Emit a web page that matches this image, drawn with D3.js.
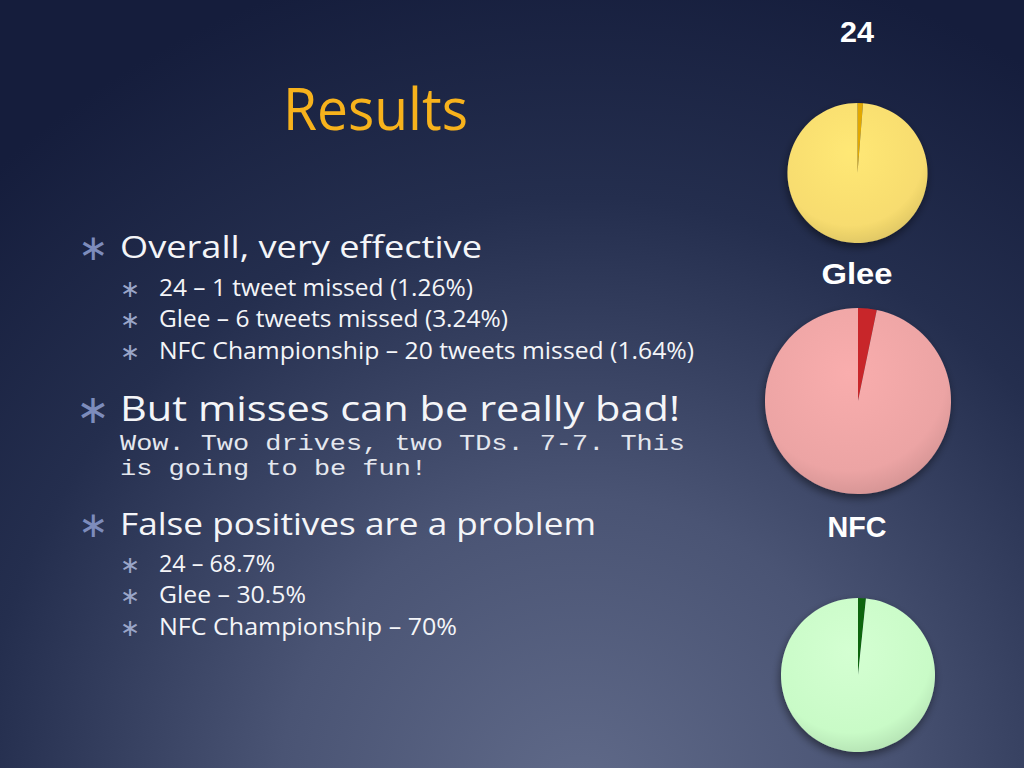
<!DOCTYPE html>
<html><head><meta charset="utf-8">
<script src="https://cdn.jsdelivr.net/npm/d3@7/dist/d3.min.js"></script>
<style>html,body{margin:0;padding:0;background:#172040;overflow:hidden}</style>
</head><body>
<script>
// ---- data ----
const pieTitles = ["24", "Glee", "NFC"];
const missedPct = [1.26, 3.24, 1.64];
const mainColors = ["#f7dc6f", "#eca4a4", "#c9fbc7"];
const sliceColors = ["#e2a800", "#c8282a", "#0b650b"];
const titleText = "Results";
const level1 = ["Overall, very effective", "But misses can be really bad!", "False positives are a problem"];
const missedLines = ["24 – 1 tweet missed (1.26%)", "Glee – 6 tweets missed (3.24%)", "NFC Championship – 20 tweets missed (1.64%)"];
const quoteLines = ["Wow. Two drives, two TDs. 7-7. This", "is going to be fun!"];
const fpLines = ["24 – 68.7%", "Glee – 30.5%", "NFC Championship – 70%"];

const W = 1024, H = 768;
const svg = d3.select("body").append("svg").attr("width", W).attr("height", H);
const defs = svg.append("defs");

const bg = defs.append("radialGradient").attr("id", "bg")
  .attr("gradientUnits", "userSpaceOnUse").attr("cx", 580).attr("cy", 800).attr("r", 860);
bg.append("stop").attr("offset", "0").attr("stop-color", "#606a89");
bg.append("stop").attr("offset", "0.35").attr("stop-color", "#4a5474");
bg.append("stop").attr("offset", "0.7").attr("stop-color", "#242e4e");
bg.append("stop").attr("offset", "1").attr("stop-color", "#151d3c");
svg.append("rect").attr("width", W).attr("height", H).attr("fill", "url(#bg)");

const sh = defs.append("filter").attr("id", "shadow").attr("x", "-20%").attr("y", "-20%").attr("width", "150%").attr("height", "150%");
sh.append("feDropShadow").attr("dx", -1).attr("dy", 4).attr("stdDeviation", 4).attr("flood-color", "#000").attr("flood-opacity", 0.45);

// ---- text ----
const sans = "'Open Sans', 'DejaVu Sans', sans-serif";
svg.append("text").text(titleText).attr("x", 283).attr("y", 130)
  .attr("font-family", sans).attr("font-size", 58).attr("fill", "#f7b21c")
  .attr("textLength", 185).attr("lengthAdjust", "spacingAndGlyphs");

function star(x, y, size, color) {
  svg.append("text").text("∗").attr("x", x).attr("y", y)
    .attr("font-family", "'DejaVu Sans', sans-serif").attr("font-size", size)
    .attr("fill", color).attr("text-anchor", "middle");
}
function line(t, x, y, size, width, fam, col) {
  svg.append("text").text(t).attr("x", x).attr("y", y)
    .attr("font-family", fam || sans).attr("font-size", size).attr("fill", col || "#f4f5f8")
    .attr("textLength", width).attr("lengthAdjust", "spacingAndGlyphs")
    .attr("xml:space", "preserve").style("white-space", "pre");
}
const l1Y = [258, 421, 535];
const l1W = [362, 560, 476];
const l1S = [31, 35, 31];
const starCol = "#7d8cbc";
level1.forEach((t, i) => {
  star(93, l1Y[i] + 2, i === 1 ? 40 : 36, starCol);
  line(t, 120, l1Y[i], l1S[i], l1W[i]);
});
const missY = [296, 327, 359];
const missW = [314, 349, 535];
missedLines.forEach((t, i) => {
  star(130, missY[i] + 1, 24, "#9aa5c8");
  line(t, 159, missY[i], 23, missW[i]);
});
const quoteY = [450, 475];
const quoteW = [565, 307];
quoteLines.forEach((t, i) => line(t, 120, quoteY[i], 22, quoteW[i], "'Liberation Mono', 'Courier New', monospace", "#e4e7ee"));
const fpY = [572, 603, 635];
const fpW = [116, 147, 298];
fpLines.forEach((t, i) => {
  star(130, fpY[i] + 1, 24, "#9aa5c8");
  line(t, 159, fpY[i], 23, fpW[i]);
});

// ---- pies ----
const pieCenters = [[857.5, 173], [858, 401], [858, 675]];
const pieRadii = [70, 93, 77];
const titleY = [42, 284, 537];
const titleW = [34, 71, 59];
const pie = d3.pie().sort(null).value(d => d);

pieTitles.forEach((name, i) => {
  svg.append("text").text(name).attr("x", 857).attr("y", titleY[i])
    .attr("text-anchor", "middle").attr("font-family", "'Liberation Sans', Arial, sans-serif")
    .attr("font-weight", "bold").attr("font-size", i === 0 ? 29 : 30).attr("fill", "#ffffff")
    .attr("textLength", titleW[i]).attr("lengthAdjust", "spacingAndGlyphs");

  const gr = defs.append("radialGradient").attr("id", "pg" + i).attr("cx", "45%").attr("cy", "35%").attr("r", "70%");
  gr.append("stop").attr("offset", "0").attr("stop-color", d3.color(mainColors[i]).brighter(0.15));
  gr.append("stop").attr("offset", "0.75").attr("stop-color", mainColors[i]);
  gr.append("stop").attr("offset", "1").attr("stop-color", d3.color(mainColors[i]).darker(0.35));

  const arc = d3.arc().innerRadius(0).outerRadius(pieRadii[i]);
  const g = svg.append("g").attr("transform", `translate(${pieCenters[i][0]},${pieCenters[i][1]})`)
    .attr("filter", "url(#shadow)");
  const vals = [missedPct[i], 100 - missedPct[i]];
  g.selectAll("path").data(pie(vals)).join("path")
    .attr("d", arc)
    .attr("fill", (d, j) => j === 0 ? sliceColors[i] : `url(#pg${i})`);
});
</script>
</body></html>
